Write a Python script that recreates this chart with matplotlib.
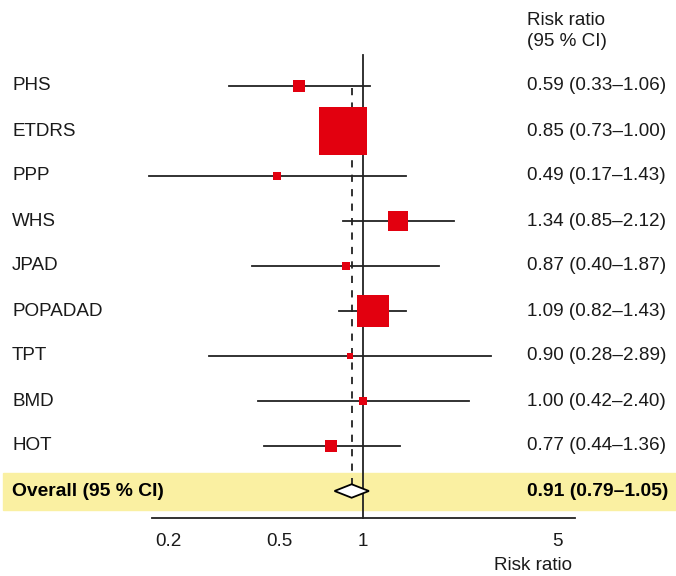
import matplotlib.pyplot as plt
import numpy as np

plt.rcParams['font.family'] = ['Liberation Sans', 'DejaVu Sans']

# data
studies = ["PHS", "ETDRS", "PPP", "WHS", "JPAD", "POPADAD", "TPT", "BMD", "HOT"]
rr = [0.59, 0.85, 0.49, 1.34, 0.87, 1.09, 0.90, 1.00, 0.77]
ci_low = [0.33, 0.73, 0.17, 0.85, 0.40, 0.82, 0.28, 0.42, 0.44]
ci_high = [1.06, 1.00, 1.43, 2.12, 1.87, 1.43, 2.89, 2.40, 1.36]
weights = [3.4, 54.6, 1.2, 8.6, 1.9, 24.3, 0.9, 1.2, 4.0]  # % weight (box area)

overall = 0.91
overall_low = 0.79
overall_high = 1.05

tick_vals = [0.2, 0.5, 1, 5]
tick_labels = ["0.2", "0.5", "1", "5"]

W, H = 676, 576
fig = plt.figure(figsize=(W / 100, H / 100), dpi=100)
ax = fig.add_axes([0, 0, 1, 1])
ax.set_xscale('log')

# 1 at x=363 px, ~278 px per decade
px_dec = 278
x0 = 363
ax.set_xlim(10 ** (-x0 / px_dec), 10 ** ((W - x0) / px_dec))
# row i sits at 86 + 45*i px
ax.set_ylim((H - 86) / 45, -86 / 45)
for s in ax.spines.values():
    s.set_visible(False)
ax.set_xticks([])
ax.set_yticks([])
ax.minorticks_off()


def row(px):
    # pixel row -> data y
    return (px - 86) / 45


n = len(studies)
y = np.arange(n)
y_over = n
fs = 13.6
fsb = 13.9
trans = ax.get_yaxis_transform()  # x in axes fraction, y in data

# yellow band behind overall row
ax.axhspan(y_over - 0.4, y_over + 0.42, xmin=0.005, xmax=1, color='#faf0a2', zorder=0)

# reference lines
ax.plot([1, 1], [row(55), row(518)], color='#222222', lw=1.3, zorder=2)
ax.plot([overall, overall], [row(88), y_over - 0.15], color='#222222', lw=1.3,
        ls=(0, (4, 4)), zorder=2)

# confidence intervals and boxes
for i in range(n):
    ax.plot([ci_low[i], ci_high[i]], [y[i], y[i]], color='#222222', lw=1.3,
            zorder=3, clip_on=False)
    ax.plot(rr[i], y[i], marker='s', ms=4.67 * np.sqrt(weights[i]),
            color='#e2000f', mec='#e2000f', mew=0, zorder=4)
    ax.text(12 / W, y[i], studies[i], transform=trans, fontsize=fs,
            va='center', ha='left', color='#1a1a1a')
    ax.text(527 / W, y[i], f"{rr[i]:.2f} ({ci_low[i]:.2f}\u2013{ci_high[i]:.2f})",
            transform=trans, fontsize=fs, va='center', ha='left', color='#1a1a1a')

# overall diamond
dh = 0.15
ax.fill([overall_low, overall, overall_high, overall],
        [y_over, y_over - dh, y_over, y_over + dh],
        facecolor='white', edgecolor='black', lw=1.3, zorder=5)
ax.text(12 / W, y_over, "Overall (95 % CI)", transform=trans, fontsize=fsb,
        fontweight='bold', va='center', ha='left', color='black')
ax.text(527 / W, y_over, f"{overall:.2f} ({overall_low:.2f}\u2013{overall_high:.2f})",
        transform=trans, fontsize=fsb, fontweight='bold', va='center',
        ha='left', color='black')

# header
ax.text(527 / W, row(31), "Risk ratio\n(95 % CI)", transform=trans,
        fontsize=fs, va='center', ha='left', color='#1a1a1a', linespacing=1.35)

# bottom axis
ax.plot([152 / W, 575 / W], [row(518), row(518)], transform=trans, color='#222222',
        lw=1.3, clip_on=False)
for v, lab in zip(tick_vals, tick_labels):
    ax.text(v, row(541), lab, fontsize=fs, ha='center', va='center',
            color='#1a1a1a')
ax.text(533 / W, row(565), "Risk ratio", transform=trans, fontsize=fs,
        ha='center', va='center', color='#1a1a1a')

fig.savefig('out.png', dpi=100)
